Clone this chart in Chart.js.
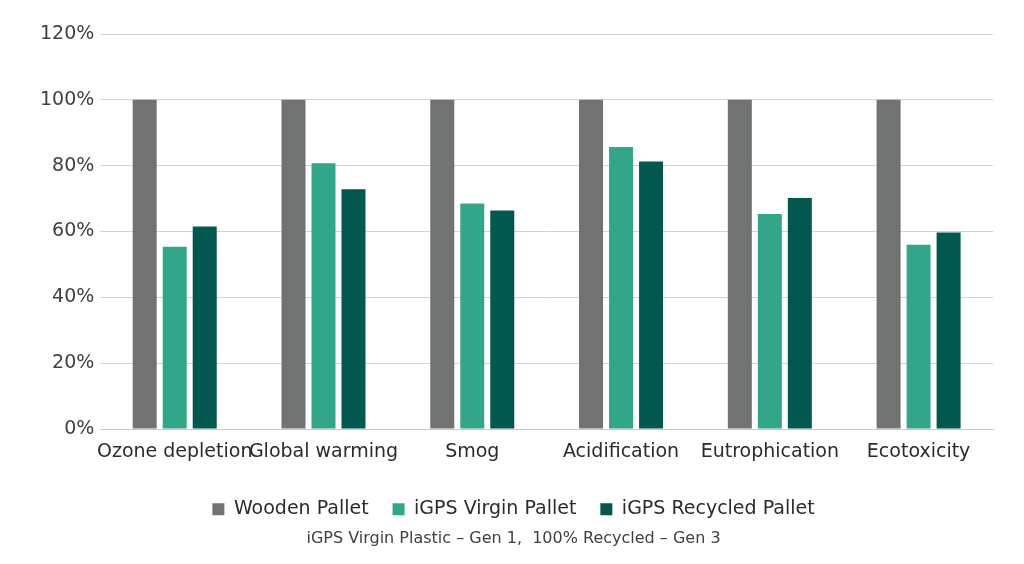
<!DOCTYPE html>
<html>
<head>
<meta charset="utf-8">
<script src="https://cdn.jsdelivr.net/npm/chart.js@4"></script>
<style>
html,body{margin:0;padding:0;background:#fff;}
#wrap{width:1024px;height:564px;position:relative;}
</style>
</head>
<body>
<div id="wrap"><canvas id="c" width="1024" height="564"></canvas></div>
<script>
const categories = ["Ozone depletion","Global warming","Smog","Acidification","Eutrophication","Ecotoxicity"];
const woodenPallet = [100,100,100,100,100,100];
const virginPallet = [55.4,80.7,68.5,85.7,65.3,56.0];
const recycledPallet = [61.5,72.8,66.4,81.3,70.2,59.7];
const seriesNames = ["Wooden Pallet","iGPS Virgin Pallet","iGPS Recycled Pallet"];
const subtitleText = "iGPS Virgin Plastic \u2013 Gen 1,  100% Recycled \u2013 Gen 3";

const FONT = "'DejaVu Sans', sans-serif";
Chart.defaults.font.family = FONT;
Chart.defaults.color = "#333333";

new Chart(document.getElementById("c"), {
  type: "bar",
  data: {
    labels: categories,
    datasets: [
      {label: seriesNames[0], data: woodenPallet, backgroundColor: "#717372"},
      {label: seriesNames[1], data: virginPallet, backgroundColor: "#33a68a"},
      {label: seriesNames[2], data: recycledPallet, backgroundColor: "#02574f"}
    ]
  },
  options: {
    responsive: false,
    animation: false,
    devicePixelRatio: 1,
    layout: {padding: {left: 34, right: 31, top: 34, bottom: 16}},
    datasets: {bar: {categoryPercentage: 0.605, barPercentage: 0.8}},
    scales: {
      x: {
        grid: {display: false, drawTicks: false},
        border: {display: true, color: "#c8c8c8", width: 1},
        ticks: {color: "#2b2b2b", font: {size: 19}, padding: 12, maxRotation: 0, autoSkip: false}
      },
      y: {
        min: 0, max: 120,
        grid: {color: "#d3d3d3", drawTicks: false, lineWidth: 1},
        border: {display: false},
        ticks: {stepSize: 20, color: "#404040", font: {size: 19}, padding: 6,
          callback: v => v + "%"}
      }
    },
    plugins: {
      legend: {
        position: "bottom",
        labels: {boxWidth: 12, boxHeight: 12, font: {size: 19}, color: "#2b2b2b", padding: 24}
      },
      subtitle: {
        display: true, position: "bottom", text: subtitleText,
        font: {size: 16}, color: "#404040", padding: {top: 0, bottom: 0}
      },
      tooltip: {enabled: false}
    }
  }
});
</script>
</body>
</html>
